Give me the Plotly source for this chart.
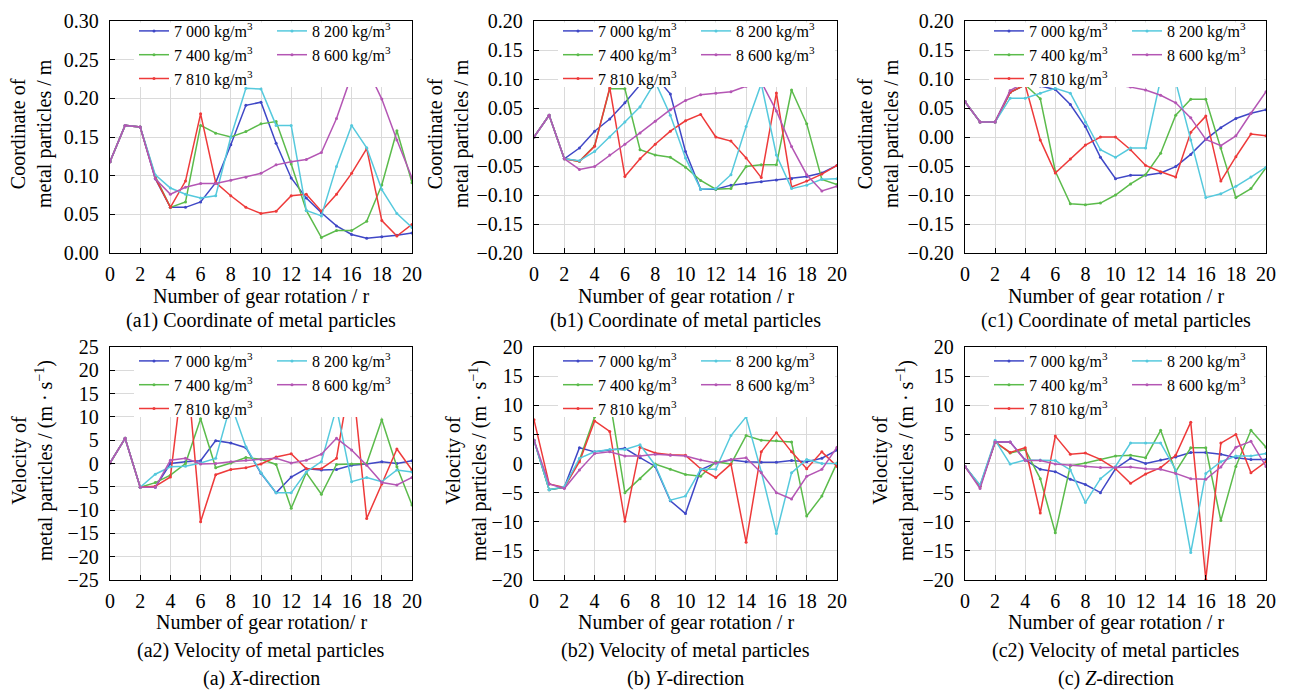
import plotly.graph_objects as go

# The page body adds an 8 px margin, so the figure is drawn 8 px smaller and
# every screen position below is converted with that offset.
OFF = 8
FW, FH = 1290 - OFF, 691 - OFF
FONT = "Liberation Serif, Times New Roman, serif"

ROTATIONS = list(range(21))
DENSITIES = ["7 000", "7 400", "7 810", "8 200", "8 600"]
COLORS = ["#3f47c6", "#5bbb4b", "#ee3a3a", "#55c9dd", "#b456b4"]

# (a1) X coordinate, m
A1_7000 = [0.118, 0.165, 0.163, 0.096, 0.059, 0.059, 0.066, 0.091, 0.140, 0.191, 0.195, 0.142, 0.097, 0.071, 0.052, 0.035, 0.024, 0.019, 0.021, 0.023, 0.026]
A1_7400 = [0.118, 0.165, 0.163, 0.099, 0.059, 0.066, 0.165, 0.155, 0.150, 0.157, 0.167, 0.170, 0.115, 0.055, 0.020, 0.029, 0.029, 0.041, 0.088, 0.158, 0.091]
A1_7810 = [0.118, 0.165, 0.163, 0.097, 0.059, 0.093, 0.180, 0.091, 0.074, 0.059, 0.051, 0.054, 0.074, 0.076, 0.054, 0.076, 0.103, 0.135, 0.042, 0.022, 0.037]
A1_8200 = [0.118, 0.165, 0.163, 0.101, 0.084, 0.076, 0.071, 0.074, 0.150, 0.213, 0.212, 0.165, 0.165, 0.055, 0.048, 0.112, 0.165, 0.136, 0.082, 0.051, 0.033]
A1_8600 = [0.118, 0.165, 0.163, 0.096, 0.076, 0.085, 0.090, 0.090, 0.094, 0.098, 0.103, 0.114, 0.118, 0.121, 0.130, 0.174, 0.230, 0.240, 0.199, 0.146, 0.097]

# (b1) Y coordinate, m
B1_7000 = [0.000, 0.0375, -0.0375, -0.019, 0.010, 0.031, 0.059, 0.090, 0.105, 0.074, -0.025, -0.090, -0.090, -0.083, -0.080, -0.077, -0.074, -0.072, -0.068, -0.062, -0.049]
B1_7400 = [0.000, 0.0375, -0.0375, -0.042, -0.015, 0.083, 0.083, -0.022, -0.031, -0.035, -0.052, -0.075, -0.090, -0.089, -0.051, -0.048, -0.048, 0.081, 0.023, -0.073, -0.082]
B1_7810 = [0.000, 0.0375, -0.0375, -0.042, -0.016, 0.085, -0.068, -0.0375, -0.0125, 0.010, 0.028, 0.039, 0.000, -0.007, -0.036, -0.070, 0.076, -0.086, -0.076, -0.064, -0.049]
B1_8200 = [0.000, 0.0375, -0.0375, -0.041, -0.025, 0.000, 0.026, 0.052, 0.095, 0.0375, -0.036, -0.090, -0.089, -0.065, 0.018, 0.092, -0.031, -0.089, -0.083, -0.073, -0.072]
B1_8600 = [0.000, 0.0375, -0.0375, -0.056, -0.051, -0.031, -0.0125, 0.007, 0.027, 0.047, 0.063, 0.073, 0.0756, 0.078, 0.0875, 0.095, 0.045, -0.0165, -0.065, -0.093, -0.085]

# (c1) Z coordinate, m
C1_7000 = [0.061, 0.026, 0.026, 0.077, 0.090, 0.088, 0.082, 0.056, 0.018, -0.035, -0.072, -0.066, -0.066, -0.062, -0.051, -0.030, -0.004, 0.016, 0.032, 0.041, 0.047]
C1_7400 = [0.061, 0.026, 0.026, 0.077, 0.090, 0.066, -0.059, -0.115, -0.117, -0.114, -0.100, -0.081, -0.065, -0.028, 0.0375, 0.065, 0.065, -0.019, -0.1045, -0.089, -0.053]
C1_7810 = [0.061, 0.026, 0.026, 0.077, 0.090, -0.005, -0.062, -0.038, -0.014, 0.000, 0.000, -0.022, -0.049, -0.060, -0.069, 0.008, 0.036, -0.076, -0.034, 0.005, 0.002]
C1_8200 = [0.061, 0.026, 0.026, 0.067, 0.067, 0.0756, 0.084, 0.0756, 0.026, -0.022, -0.035, -0.019, -0.019, 0.100, 0.095, -0.005, -0.1045, -0.098, -0.085, -0.069, -0.052]
C1_8600 = [0.061, 0.026, 0.026, 0.080, 0.095, 0.100, 0.105, 0.108, 0.105, 0.098, 0.090, 0.086, 0.081, 0.072, 0.059, 0.033, -0.004, -0.015, 0.002, 0.041, 0.078]

# (a2) X velocity, m/s
A2_7000 = [0.1, 5.4, -5.1, -5.1, 0.0, 0.4, 0.6, 4.9, 4.4, 3.4, -2.1, -6.3, -2.9, -1.1, -1.4, -1.3, -0.4, -0.1, 0.4, 0.0, 0.6]
A2_7400 = [0.1, 5.4, -5.1, -4.1, -2.5, 0.0, 9.6, -0.9, 0.1, 1.3, 0.9, -0.2, -9.6, -2.0, -6.6, -0.2, -0.1, 0.0, 9.4, -0.7, -8.9]
A2_7810 = [0.1, 5.4, -5.1, -4.9, -2.9, 24.0, -12.5, -2.4, -1.3, -0.9, -0.1, 1.4, 2.1, -1.1, -1.1, 1.1, 20.0, -11.8, -4.4, 3.1, -1.4]
A2_8200 = [0.1, 5.4, -5.1, -2.3, -0.7, -0.6, 0.1, 1.1, 12.8, 3.6, -2.0, -6.3, -6.3, -1.8, 0.4, 12.0, -3.9, -3.0, -3.9, -1.4, -1.8]
A2_8600 = [0.1, 5.4, -5.1, -5.1, 0.7, 1.1, -0.1, 0.0, 0.4, 0.7, 0.9, 1.1, 0.1, 0.7, 2.0, 5.4, 2.9, -0.4, -4.1, -4.6, -3.0]

# (b2) Y velocity, m/s
B2_7000 = [4.0, -4.5, -4.1, 2.7, 2.0, 2.3, 2.6, 1.0, -0.5, -6.4, -8.6, -1.1, 0.1, 0.6, 0.3, 0.2, 0.2, 0.5, 0.3, 0.9, 2.3]
B2_7400 = [4.0, -4.5, -4.1, 0.6, 8.0, 11.0, -5.0, -2.6, -0.1, -1.0, -1.9, -2.2, 0.3, -0.1, 4.8, 4.0, 3.9, 3.7, -9.0, -5.6, 0.1]
B2_7810 = [7.5, -3.5, -4.1, 0.3, 7.3, 5.5, -9.9, 2.8, 1.8, 1.5, 1.4, -0.9, -2.4, -0.1, -13.5, 2.0, 5.3, 2.0, -0.9, 2.0, -0.5]
B2_8200 = [4.0, -4.5, -4.0, 0.9, 2.0, 2.4, 2.4, 3.2, -0.3, -6.3, -5.6, -1.0, -1.0, 4.8, 8.0, -1.4, -12.0, -1.6, 0.7, 0.0, 0.0]
B2_8600 = [4.0, -3.5, -4.3, -1.1, 1.7, 2.0, 1.3, 1.3, 1.6, 1.4, 1.3, 0.6, 0.1, 0.7, 1.0, -1.6, -5.0, -6.1, -2.2, -1.0, 2.8]

# (c2) Z velocity, m/s
C2_7000 = [-0.5, -3.9, 3.7, 3.7, 0.6, -1.0, -1.4, -2.7, -3.6, -5.0, -0.9, 0.9, 0.0, 0.6, 1.1, 1.9, 1.9, 1.6, 1.0, 0.7, 0.7]
C2_7400 = [-0.5, -3.9, 3.7, 1.8, 2.4, -2.6, -11.9, -0.4, 0.1, 0.7, 1.3, 1.4, 1.0, 5.7, -1.4, 2.7, 2.7, -9.8, -0.5, 5.7, 2.8]
C2_7810 = [-0.5, -3.9, 3.7, 1.9, 2.7, -8.5, 4.7, 1.6, 1.8, 0.7, -0.9, -3.4, -1.8, -0.7, 1.4, 7.1, -19.9, 3.5, 5.0, -1.6, 0.3]
C2_8200 = [-0.5, -3.7, 4.0, -0.1, 0.6, 0.6, 0.5, -1.1, -6.7, -2.6, -0.5, 3.5, 3.5, 3.5, -1.1, -15.3, -1.7, 0.3, 1.3, 1.3, 1.7]
C2_8600 = [-0.5, -4.3, 3.7, 3.7, 0.5, 0.5, -0.1, -0.3, -0.5, -0.7, -0.7, -0.6, -0.9, -1.0, -1.7, -2.6, -2.7, -0.6, 2.8, 3.8, -0.5]

TOP_A, TOP_B = 21, 347   # plot-area tops of the two rows (screen px)
BOT_A, BOT_B = 253, 580  # plot-area bottoms
LEG_A, LEG_B = 17, 347   # reference rows for legend placement

PANELS = [
    dict(series=[A1_7000, A1_7400, A1_7810, A1_8200, A1_8600], yrange=[0, 0.3], dtick=0.05, fmt=".2f",
         box=(110, 412, TOP_A, BOT_A), leg=LEG_A, ytitle="Coordinate of<br>metal particles / m", ytx=32, yty=134,
         xtitle="Number of gear rotation / r", caption="(a1) Coordinate of metal particles"),
    dict(series=[B1_7000, B1_7400, B1_7810, B1_8200, B1_8600], yrange=[-0.2, 0.2], dtick=0.05, fmt=".2f",
         box=(534, 837, TOP_A, BOT_A), leg=LEG_A, ytitle="Coordinate of<br>metal particles / m", ytx=449, yty=134,
         xtitle="Number of gear rotation / r", caption="(b1) Coordinate of metal particles"),
    dict(series=[C1_7000, C1_7400, C1_7810, C1_8200, C1_8600], yrange=[-0.2, 0.2], dtick=0.05, fmt=".2f",
         box=(965, 1266, TOP_A, BOT_A), leg=LEG_A, ytitle="Coordinate of<br>metal particles / m", ytx=879, yty=134,
         xtitle="Number of gear rotation / r", caption="(c1) Coordinate of metal particles"),
    dict(series=[A2_7000, A2_7400, A2_7810, A2_8200, A2_8600], yrange=[-25, 25], dtick=5, fmt="d",
         box=(110, 412, TOP_B, BOT_B), leg=LEG_B, ytitle="Velocity of<br>metal particles / (m · s<sup>−1</sup>)", ytx=32, yty=461,
         xtitle="Number of gear rotation/ r", caption="(a2) Velocity of metal particles"),
    dict(series=[B2_7000, B2_7400, B2_7810, B2_8200, B2_8600], yrange=[-20, 20], dtick=5, fmt="d",
         box=(534, 837, TOP_B, BOT_B), leg=LEG_B, ytitle="Velocity of<br>metal particles / (m · s<sup>−1</sup>)", ytx=466, yty=461,
         xtitle="Number of gear rotation / r", caption="(b2) Velocity of metal particles"),
    dict(series=[C2_7000, C2_7400, C2_7810, C2_8200, C2_8600], yrange=[-20, 20], dtick=5, fmt="d",
         box=(965, 1266, TOP_B, BOT_B), leg=LEG_B, ytitle="Velocity of<br>metal particles / (m · s<sup>−1</sup>)", ytx=893, yty=461,
         xtitle="Number of gear rotation / r", caption="(c2) Velocity of metal particles"),
]
DIRECTIONS = ["(a) <i>X</i>-direction", "(b) <i>Y</i>-direction", "(c) <i>Z</i>-direction"]


def px_x(v):
    return (v - OFF) / FW


def px_y(v):
    return 1 - (v - OFF) / FH


fig = go.Figure()
layout = dict(
    width=FW, height=FH, margin=dict(l=0, r=0, t=0, b=0, autoexpand=False),
    paper_bgcolor="white", plot_bgcolor="white",
    font=dict(family=FONT, size=20, color="black"),
    annotations=[], shapes=[],
)

axis_common = dict(
    showgrid=True, gridcolor="#dadada", gridwidth=1,
    showline=True, linecolor="black", linewidth=1.3, mirror=True,
    ticks="inside", ticklen=5, tickcolor="black", tickwidth=1,
    zeroline=False, tickfont=dict(family=FONT, size=20, color="black"),
    automargin=False, ticklabeloverflow="allow",
)

TXT = dict(family=FONT, size=20, color="black")

for p_i, p in enumerate(PANELS):
    n = "" if p_i == 0 else str(p_i + 1)
    xref, yref = "x" + n, "y" + n
    x0, x1, y0, y1 = p["box"]
    ly = p["leg"]
    layout["xaxis" + n] = dict(axis_common, domain=[px_x(x0), px_x(x1)], range=[0, 20],
                               tick0=0, dtick=2, anchor=yref, ticklabelstandoff=3)
    layout["yaxis" + n] = dict(axis_common, domain=[px_y(y1), px_y(y0)], range=p["yrange"],
                               tick0=p["yrange"][0], dtick=p["dtick"], tickformat=p["fmt"],
                               anchor=xref, ticklabelstandoff=6)

    # white area behind the legend that hides the lines, as in the original
    layout["shapes"].append(dict(type="rect", xref="paper", yref="paper", layer="above",
                                 x0=px_x(x0 + 24), x1=px_x(x1 - 2), y0=px_y(ly + 70), y1=px_y(y0 + 1.5),
                                 fillcolor="white", line=dict(width=0)))

    leg1 = "legend" if p_i == 0 else "legend" + str(2 * p_i + 1)
    leg2 = "legend" + str(2 * p_i + 2)
    for leg, lx in ((leg1, x0 + 24), (leg2, x0 + 162)):
        layout[leg] = dict(x=px_x(lx), y=px_y(ly - 3), xanchor="left", yanchor="top",
                           bgcolor="rgba(0,0,0,0)", borderwidth=0, itemwidth=30, tracegroupgap=0,
                           font=dict(family=FONT, size=16, color="black"))

    for s_i, (vals, dens, col) in enumerate(zip(p["series"], DENSITIES, COLORS)):
        fig.add_trace(go.Scatter(
            x=ROTATIONS, y=vals, mode="lines+markers",
            name=dens + " kg/m<sup>3</sup>",
            line=dict(color=col, width=1.5), marker=dict(color=col, size=3),
            xaxis=xref, yaxis=yref,
            legend=leg1 if s_i < 3 else leg2,
        ))

    top_row = y1 < 300
    cx = (x0 + x1) / 2
    layout["annotations"] += [
        dict(text=p["ytitle"], x=px_x(p["ytx"]), y=px_y(p["yty"]), xref="paper", yref="paper",
             textangle=-90, showarrow=False, xanchor="center", yanchor="middle", font=TXT),
        dict(text=p["xtitle"], x=px_x(cx), y=px_y(296 if top_row else 622), xref="paper", yref="paper",
             showarrow=False, xanchor="center", yanchor="middle", font=TXT),
        dict(text=p["caption"], x=px_x(cx), y=px_y(321 if top_row else 650), xref="paper", yref="paper",
             showarrow=False, xanchor="center", yanchor="middle", font=TXT),
    ]
    if not top_row:
        layout["annotations"].append(
            dict(text=DIRECTIONS[p_i - 3], x=px_x(cx), y=px_y(678), xref="paper", yref="paper",
                 showarrow=False, xanchor="center", yanchor="middle", font=TXT))

fig.update_layout(**layout)
fig.write_html("out.html")
